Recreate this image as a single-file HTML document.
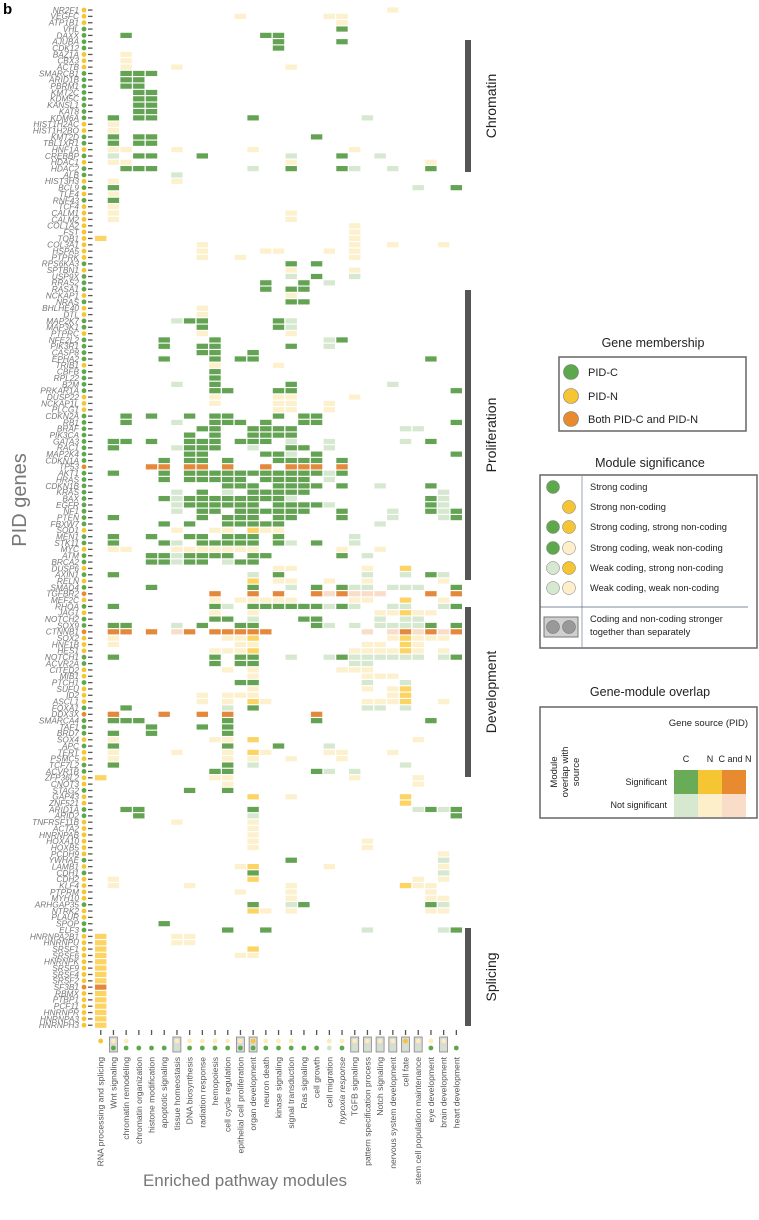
<!DOCTYPE html>
<html><head><meta charset="utf-8"><style>
html,body{margin:0;padding:0;background:#fff;width:759px;height:1220px;overflow:hidden}
svg{display:block;font-family:"Liberation Sans",sans-serif}
</style></head><body>
<svg id="chart" width="759" height="1220" viewBox="0 0 759 1220" xmlns="http://www.w3.org/2000/svg">
<text x="3" y="14" font-size="15" font-weight="bold" fill="#000">b</text>
<text transform="translate(26,500) rotate(-90)" text-anchor="middle" font-size="20" fill="#777">PID genes</text>
<text x="245" y="1186" text-anchor="middle" font-size="17" fill="#777">Enriched pathway modules</text>
<g id="cells"></g><g id="rowlabels"></g><g id="collabels"></g>
<!-- section bars -->
<rect x="465" y="40" width="6" height="132" fill="#555"/>
<text transform="translate(496,106) rotate(-90)" text-anchor="middle" font-size="14" fill="#222">Chromatin</text>
<rect x="465" y="290" width="6" height="290" fill="#555"/>
<text transform="translate(496,435) rotate(-90)" text-anchor="middle" font-size="14" fill="#222">Proliferation</text>
<rect x="465" y="607" width="6" height="170" fill="#555"/>
<text transform="translate(496,692) rotate(-90)" text-anchor="middle" font-size="14" fill="#222">Development</text>
<rect x="465" y="928" width="6" height="98" fill="#555"/>
<text transform="translate(496,977) rotate(-90)" text-anchor="middle" font-size="14" fill="#222">Splicing</text>
<!-- legend 1 -->
<g font-size="11" fill="#222">
<text x="653" y="347" text-anchor="middle" font-size="12.5">Gene membership</text>
<rect x="559" y="357" width="187" height="74" fill="none" stroke="#666" stroke-width="1.5"/>
<circle cx="571" cy="372" r="7.5" fill="#5ea84c" stroke="#777" stroke-width="0.6"/><text x="588" y="376">PID-C</text>
<circle cx="571" cy="396" r="7.5" fill="#f6c533" stroke="#777" stroke-width="0.6"/><text x="588" y="400">PID-N</text>
<circle cx="571" cy="419" r="7.5" fill="#e88a30" stroke="#777" stroke-width="0.6"/><text x="588" y="423">Both PID-C and PID-N</text>
</g>
<!-- legend 2 -->
<g font-size="9.3" fill="#222">
<text x="650" y="467" text-anchor="middle" font-size="12.5">Module significance</text>
<rect x="540" y="475" width="217" height="173" fill="none" stroke="#666" stroke-width="1.5"/>
<line x1="582" y1="475" x2="582" y2="648" stroke="#8090a8" stroke-width="0.8"/>
<line x1="540" y1="607" x2="748" y2="607" stroke="#506080" stroke-width="0.8"/>
<circle cx="553" cy="487" r="6.5" fill="#5ea84c" stroke="#777" stroke-width="0.5"/><text x="590" y="490">Strong coding</text>
<circle cx="569" cy="507" r="6.5" fill="#f6c533" stroke="#777" stroke-width="0.5"/><text x="590" y="510">Strong non-coding</text>
<circle cx="553" cy="527" r="6.5" fill="#5ea84c" stroke="#777" stroke-width="0.5"/><circle cx="569" cy="527" r="6.5" fill="#f6c533" stroke="#777" stroke-width="0.5"/><text x="590" y="530">Strong coding, strong non-coding</text>
<circle cx="553" cy="548" r="6.5" fill="#5ea84c" stroke="#777" stroke-width="0.5"/><circle cx="569" cy="548" r="6.5" fill="#fdefc9" stroke="#777" stroke-width="0.5"/><text x="590" y="551">Strong coding, weak non-coding</text>
<circle cx="553" cy="568" r="6.5" fill="#d6e8d0" stroke="#777" stroke-width="0.5"/><circle cx="569" cy="568" r="6.5" fill="#f6c533" stroke="#777" stroke-width="0.5"/><text x="590" y="571">Weak coding, strong non-coding</text>
<circle cx="553" cy="588" r="6.5" fill="#d6e8d0" stroke="#777" stroke-width="0.5"/><circle cx="569" cy="588" r="6.5" fill="#fdefc9" stroke="#777" stroke-width="0.5"/><text x="590" y="591">Weak coding, weak non-coding</text>
<rect x="544" y="617" width="34" height="20" fill="#d0d0d0" stroke="#777"/>
<circle cx="553" cy="627" r="6.5" fill="#999" stroke="#666" stroke-width="0.5"/><circle cx="569" cy="627" r="6.5" fill="#999" stroke="#666" stroke-width="0.5"/>
<text x="590" y="622">Coding and non-coding stronger</text><text x="590" y="635">together than separately</text>
</g>
<!-- legend 3 -->
<g font-size="9" fill="#222">
<text x="650" y="696" text-anchor="middle" font-size="12.5">Gene-module overlap</text>
<rect x="540" y="707" width="217" height="111" fill="none" stroke="#666" stroke-width="1.5"/>
<text x="748" y="726" text-anchor="end" font-size="9.5">Gene source (PID)</text>
<text x="686" y="762" text-anchor="middle">C</text><text x="710" y="762" text-anchor="middle">N</text><text x="735" y="762" text-anchor="middle">C and N</text>
<rect x="674" y="770" width="24" height="24" fill="#6aab57"/><rect x="698" y="770" width="24" height="24" fill="#f6c533"/><rect x="722" y="770" width="24" height="24" fill="#e88a30"/>
<rect x="674" y="794" width="24" height="23" fill="#d6e8d0"/><rect x="698" y="794" width="24" height="23" fill="#fdefc9"/><rect x="722" y="794" width="24" height="23" fill="#f9ddc8"/>
<text x="667" y="785" text-anchor="end">Significant</text><text x="667" y="808" text-anchor="end">Not significant</text>
<text transform="translate(557,772) rotate(-90)" text-anchor="middle" font-size="9.5">Module</text>
<text transform="translate(568,772) rotate(-90)" text-anchor="middle" font-size="9.5">overlap with</text>
<text transform="translate(579,772) rotate(-90)" text-anchor="middle" font-size="9.5">source</text>
</g>
</svg>
<script>
const genes = ["NR2F1","VEGFC","ATP1B1","VHL","DAXX","AJUBA","CDK12","BAZ1A","CBX3","ACTB","SMARCB1","ARID1B","PBRM1","KMT2C","KDM5C","KANSL1","KAT8","KDM6A","HIST1H2AC","HIST1H2BO","KMT2D","TBL1XR1","HNF1A","CREBBP","HDAC1","HDAC2","ALB","HIST3H3","BCL9","TLE4","RNF43","TCF4","CALM1","CALM2","COL1A2","FST","TOB1","COL3A1","HSPA5","PTPRK","RPS6KA3","SPTBN1","USP9X","RRAS2","RASA1","NCKAP1","NRAS","BHLHE40","DTL","MAP2K7","MAP3K1","PTPRC","NFE2L2","PIK3R1","CASP8","EPHA2","TRIB1","CBFB","RPL22","B2M","PRKAR1A","DUSP22","NCKAP1L","PLCG1","CDKN2A","RB1","BRAF","PIK3CA","GATA3","RAC1","MAP2K4","CDKN1A","TP53","AKT1","HRAS","CDKN1B","KRAS","BAX","EGFR","NF1","PTEN","FBXW7","SOD1","MEN1","STK11","MYC","ATM","BRCA2","DUSP6","AXIN1","RELN","SMAD4","TGFBR2","MEF2C","RHOA","JAG1","NOTCH2","SOX9","CTNNB1","SOX2","HNF1B","HES1","NOTCH1","ACVR2A","CITED2","MIB1","PTCH1","SUFU","ID2","ASCL1","FOXA1","DDX3X","SMARCA4","TAF1","BRD7","SOX4","APC","TERT","PSMC5","TCF7L2","ACVR1B","ZFP36L2","CNOT3","STAG2","GAP43","ZNF521","ARID1A","ARID2","TNFRSF11B","ACTA2","HNRNPAB","HOXA10","HOXB5","PCDH9","YWHAE","LAMB1","CDH1","CDH2","KLF4","PTPRM","MYH10","ARHGAP35","NTRK2","PLAUR","SPOP","ELF3","HNRNPA2B1","HNRNPU","SRSF1","SRSF6","HNRNPK","SRSF9","SRSF4","SRSF2","SF3B1","RBMX","PTBP1","PCF11","HNRNPR","HNRNPA3","HNRNPH3"];
const membership = ["NNN","CCCC","NNN","CCCCCCCC","NN","CC","N","C","N","C","C","N","C","N","C","NNNNNNNNN","C","N","C","C","C","N","C","N","N","C","C","N","CCCC","N","CCCC","NNN","CCCCCCCC","B","CCCCCCCCC","N","C","C","N","C","C","N","C","N","C","B","N","C","N","C","C","B","NNN","C","C","N","N","C","NNN","C","B","CCC","N","C","N","N","C","C","N","N","C","N","N","C","C","NNNNNN","C","N","C","NNNN","C","N","N","C","C","NNNNNNNN","B","NNNNNN"].join("");
const modules = ["RNA processing and splicing","Wnt signaling","chromatin remodeling","chromatin organization","histone modification","apoptotic signaling","tissue homeostasis","DNA biosynthesis","radiation response","hemopoiesis","cell cycle regulation","epithelial cell proliferation","organ development","neuron death","kinase signaling","signal transduction","Ras signaling","cell growth","cell migration","hypoxia response","TGFB signaling","pattern specification process","Notch signaling","nervous system development","cell fate","stem cell population maintenance","eye development","brain development","heart development"];
const moduleNonCoding = ["Y","y","y","","","","y","y","y","y","y","y","Y","y","y","y","","","y","y","y","y","y","y","Y","y","y","y",""];
const moduleCoding = ["","G","G","G","G","G","g","G","G","G","G","G","G","G","G","G","G","G","g","G","g","g","g","g","g","g","G","g","G"];
const moduleCombined = [0,1,0,0,0,0,1,0,0,0,0,1,1,0,0,0,0,0,0,0,1,1,1,1,1,1,0,1,0];
const cellRows = ["23y","11y 18y 19y","19y","19G","2G 13G 14G","14G 19G","14G","2y","2y","2y 6y 15y","2G 3G 4G","2G 3G","2G 3G","3G 4G","3G 4G","3G 4G","3G 4G","1G 3G 4G 12G 21g","1y","1y","1G 3G 4G 17G","1G 3G 4G","1y 2y 6y 12y 20y","1g 3G 4G 8G 15g 19G 22g","1y 2y 15y 26y","2G 3G 4G 12g 15G 19G 20g 23g 26G","6g","1y 6y","1G 25g 28G","1y",
"1G","1y","1y 15y","1y 15y","20y","20y","0Y 20y","8y 20y 23y 27y","8y 13y 14y 18y 20y","8y 11y 20y","15G 17G","15y 20y","15g 17G 20g","13G 16G 18g","13G 15G 16G","15y","15G 16G","8y","8y","6g 7G 8G 14G 15g","8G 14G 15g","8y 15y","5G 9G 18g 19G","5G 8G 9G 15G 18g","8G 9G 12G","5G 9G 11G 12G 26G","9y 14y","9G","9G","6g 9G 15G 23g",
"9G 10G 14G 15G 28G","9y 14y 15y 20y","9y 14y 15y 18y","14y 15y 18y","2G 4G 7G 9G 10G 14G 16G 17G","2G 6g 9G 10G 11G 13G 16G 17G 28G","8G 9G 12G 13G 14G 15G 24g 25g","7G 9G 12G 13G 14G 15G","1G 2G 4G 7G 8G 9G 11G 12G 13G 15g 18g 24g 26G","1G 6g 7G 8G 9G 12g 15G 16G 18g","7G 8G 13G 14G 15g 17G 28G","5G 7G 8G 10G 14G 15G 16G 17G 19G","4O 5O 7O 8O 10O 13O 15O 16O 17O 19O","1G 5G 7G 8G 9G 10G 11G 12G 13G 14G 15G 16G 17G 18g 19G","5G 7G 8G 9G 10G 11G 13G 14G 15G 16G 18g","10G 11G 12G 14G 15G 16G 17G 19G 22g 26G","6g 8G 10g 12G 13G 14G 15G 16G 27g","5G 6g 7G 8G 9G 10G 11G 12G 13G 14G 15g 26G 27g","6g 7G 8G 9G 10G 11G 12G 14G 15G 16G 17G 18g 26G 27g","6g 8G 9G 11G 12G 13G 14G 15G 16G 19G 23g 26G 27g 28G",
"1G 8G 10G 11G 12G 14G 15G 19G 23g 27g 28G","5G 7G 10G 11G 12G 13G 14G 22g","6y 9y 10y 12Y 13y 14y","1G 4G 7G 8G 10G 11G 12G 14G 20g","1G 5G 6g 8G 9G 10G 11G 12G 14G 15g 17G 20g","1y 2y 6y 7y 8y 9y 10y 11y 12y 19y 22y","4G 5G 6g 7G 8G 9G 10G 12G 13G 19G 21g","4G 5G 6g 7G 8G 10g 11G 12G","14y 15y 21y 24Y","1G 12g 14G 21g 24g 26G 27g",
"12Y 14y 15y 18y 21y 27y","4G 12G 15g 17G 19G 20g 21g 23g 24g 25g 28G","9O 12O 14O 17O 18o 19O 20o 21o 22o 26O 28O","9y 11y 12y 13y 14y 15y 20y 21y 24Y 27y","1G 9G 10g 12G 13G 14G 15G 16G 17G 18g 19G 20g 23g 24g 27g 28G","9y 12y 22y 23y 24Y 25y 26y","9G 10G 12g 16G 17G 22g 24g 25g","1G 2G 6g 8G 11G 12G 17G 18g 20g 22g 23g 24g 25g 26G 28G","1O 2O 4O 6o 7O 9O 10O 11O 12O 13O 21o 23o 24O 25o 26O 27o 28O","1y 10y 11y 12Y 23y 24Y 25y 26y 27y",
"1y 11y 12y 21y 22y 24Y 25y","9y 10y 11y 12Y 20y 21y 22y 23y 24Y 25y 27y","1G 9G 11G 12G 15g 18g 19G 20g 21g 22g 23g 24g 25g 27g 28G","9G 11G 12G 20g 21g","10y 12y 19y 20y 21y","12y 21y 22y 23y","11G 12G 21g 24g","12y 21y 23y 24Y","8y 10y 11y 12y 23y 24Y","8y 10y 12Y 13y 21y 22y 23y 24Y 27y",
"2G 10g 12G 21g 22g 24g","1O 5O 8O 10O 17O","1G 2G 3G 10G 17G 26G","4G 8G 10G","1G 4G 10G","1y 9y 10y 12Y 25y","1G 10G 14G 18g","1y 6y 10y 12Y 13y 18y 19y 23y","1y 10y 12y 15y 19y","1G 10G 12g 24g",
"9G 10G 17G 18g 20g","0Y 9y 10y 20y 25y","10y 25y","7G 10G","12Y 15y 24Y","24Y","2G 3G 12G 25g 26G 27g 28G","3G 12g 28G","6y 12y","12y",
"12y","12y 21y","12y 21y","27y","15G 27g","11y 12Y 18y 27y","12G 27g","1y 12Y 25y 27y","1y 7y 15y 24Y 25y 26y","11y 15y 26y",
"15y 26y 27y","12G 15g 16G 26G 27g","12Y 13y 15y 26y 27y","","5G","10G 13G 21g 27g 28G","0Y 6y 7y","0Y 6y 7y","0Y 12Y","0Y 11y 12y",
"0Y","0Y","0Y","0Y","0O","0Y","0Y","0Y","0Y","0Y","0Y"];

const NS="http://www.w3.org/2000/svg";
const colorOf={G:"#63a353",g:"#d6e8d0",Y:"#fbd463",y:"#fdf0cd",O:"#e4893c",o:"#f9ddc8"};
const memColor={C:"#5ea84c",N:"#f6c533",B:"#e88a30"};
const x0=95, dx=12.7, y0=10, dy=6.345, cw=11.4, ch=5.2;
const xScale=c=>x0+c*dx;
const yScale=r=>y0+r*dy;
function mk(tag,attrs,parent){const e=document.createElementNS(NS,tag);for(const k in attrs)e.setAttribute(k,attrs[k]);parent.appendChild(e);return e;}
const cells=document.getElementById('cells');
cellRows.forEach((row,r)=>{
  if(!row)return;
  row.split(' ').forEach(tok=>{
    const c=parseInt(tok,10), t=tok.slice(-1);
    const e=mk('rect',{x:xScale(c),y:yScale(r)-ch/2,width:cw,height:ch,fill:colorOf[t]},cells);
    
    
  });
});
const rl=document.getElementById('rowlabels');
genes.forEach((g,r)=>{
  const y=yScale(r);
  const t=mk('text',{x:79,y:y+2.9,'text-anchor':'end','font-size':8.3,'font-style':'italic',fill:'#777'},rl);
  t.textContent=g;
  
  
  const d=mk('circle',{cx:84,cy:y,r:2.4,fill:memColor[membership[r]]||'#f6c533'},rl);
  
  
  const l=mk('rect',{x:88,y:y-0.6,width:4.5,height:1.3,fill:'#555'},rl);
  
  
});
const cl=document.getElementById('collabels');
modules.forEach((m,c)=>{
  const cx=xScale(c)+cw/2;
  const tk=mk('rect',{x:cx-0.6,y:1030,width:1.3,height:5,fill:'#555'},cl);
  
  
  if(moduleCombined[c]){
    const b=mk('rect',{x:cx-4,y:1037,width:8,height:15,fill:'#d9d9d9',stroke:'#888','stroke-width':0.8},cl);
    
    
  }
  if(moduleNonCoding[c]){
    const d=mk('circle',{cx:cx,cy:1041,r:2.4,fill:colorOf[moduleNonCoding[c]]==='#fdf0cd'?'#fdebb8':'#f6c533'},cl);
    
    
  }
  if(moduleCoding[c]){
    const d=mk('circle',{cx:cx,cy:1048,r:2.4,fill:moduleCoding[c]==='G'?'#5ea84c':'#cfe4c8'},cl);
    
    
  }
  const t=mk('text',{transform:`translate(${cx+3},1057) rotate(-90)`,'text-anchor':'end','font-size':8.6,fill:'#555'},cl);
  if(m==='hypoxia response')t.setAttribute('font-style','italic');
  t.textContent=m;
  
  
});
</script>
</body></html>
